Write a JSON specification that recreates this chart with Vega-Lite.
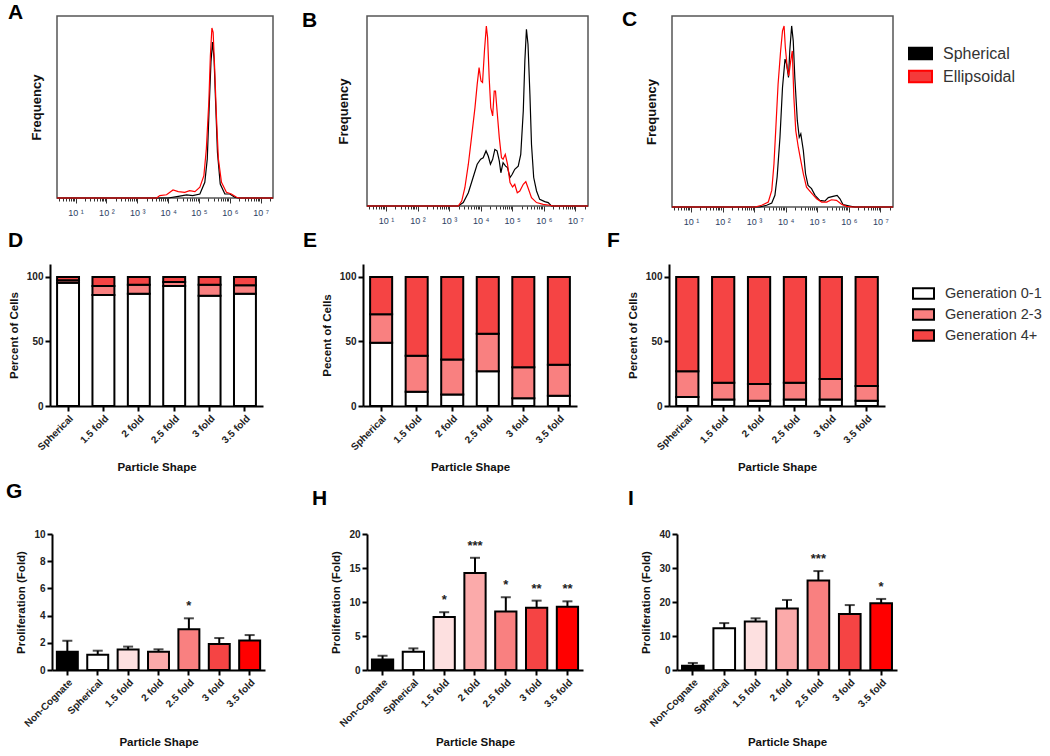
{
"$schema": "https://vega.github.io/schema/vega-lite/v6.json",
"padding": {"left": 6, "top": 1, "right": 5, "bottom": 5},
"background": "white",
"config": {
  "view": {"stroke": null},
  "font": "Liberation Sans",
  "axis": {"grid": false, "domainColor": "black", "domainWidth": 2, "tickColor": "black", "tickWidth": 2, "tickSize": 5, "labelFont": "Liberation Sans", "labelFontSize": 10, "labelFontWeight": "bold", "labelColor": "#222", "titleFont": "Liberation Sans", "titleFontSize": 11.5, "titleFontWeight": "bold", "titleColor": "#111"},
  "title": {"font": "Liberation Sans", "fontSize": 21, "fontWeight": "bold", "color": "black", "anchor": "start", "frame": "group", "offset": 0, "baseline": "alphabetic"}
},
"datasets": {
"hist": [
{"panel":"A","series":"Spherical","log_intensity":0.4,"frequency":0},
{"panel":"A","series":"Spherical","log_intensity":4.0,"frequency":0},
{"panel":"A","series":"Spherical","log_intensity":4.33,"frequency":0.9},
{"panel":"A","series":"Spherical","log_intensity":4.6,"frequency":1.7},
{"panel":"A","series":"Spherical","log_intensity":4.8,"frequency":1.3},
{"panel":"A","series":"Spherical","log_intensity":5.03,"frequency":2.2},
{"panel":"A","series":"Spherical","log_intensity":5.19,"frequency":8.6},
{"panel":"A","series":"Spherical","log_intensity":5.27,"frequency":21.5},
{"panel":"A","series":"Spherical","log_intensity":5.33,"frequency":49},
{"panel":"A","series":"Spherical","log_intensity":5.39,"frequency":74.7},
{"panel":"A","series":"Spherical","log_intensity":5.44,"frequency":85.7},
{"panel":"A","series":"Spherical","log_intensity":5.49,"frequency":76.5},
{"panel":"A","series":"Spherical","log_intensity":5.54,"frequency":52.7},
{"panel":"A","series":"Spherical","log_intensity":5.6,"frequency":25},
{"panel":"A","series":"Spherical","log_intensity":5.69,"frequency":7.7},
{"panel":"A","series":"Spherical","log_intensity":5.84,"frequency":2.2},
{"panel":"A","series":"Spherical","log_intensity":6.0,"frequency":2.2},
{"panel":"A","series":"Spherical","log_intensity":6.16,"frequency":0.4},
{"panel":"A","series":"Spherical","log_intensity":6.27,"frequency":0},
{"panel":"A","series":"Spherical","log_intensity":7.4,"frequency":0},
{"panel":"A","series":"Ellipsoidal","log_intensity":0.4,"frequency":0},
{"panel":"A","series":"Ellipsoidal","log_intensity":3.63,"frequency":0},
{"panel":"A","series":"Ellipsoidal","log_intensity":3.73,"frequency":1.3},
{"panel":"A","series":"Ellipsoidal","log_intensity":3.95,"frequency":1.8},
{"panel":"A","series":"Ellipsoidal","log_intensity":4.16,"frequency":4.4},
{"panel":"A","series":"Ellipsoidal","log_intensity":4.33,"frequency":3.5},
{"panel":"A","series":"Ellipsoidal","log_intensity":4.54,"frequency":3.1},
{"panel":"A","series":"Ellipsoidal","log_intensity":4.7,"frequency":4.0},
{"panel":"A","series":"Ellipsoidal","log_intensity":4.87,"frequency":3.5},
{"panel":"A","series":"Ellipsoidal","log_intensity":5.03,"frequency":5.9},
{"panel":"A","series":"Ellipsoidal","log_intensity":5.16,"frequency":12.3},
{"panel":"A","series":"Ellipsoidal","log_intensity":5.24,"frequency":27},
{"panel":"A","series":"Ellipsoidal","log_intensity":5.32,"frequency":52.7},
{"panel":"A","series":"Ellipsoidal","log_intensity":5.37,"frequency":78},
{"panel":"A","series":"Ellipsoidal","log_intensity":5.42,"frequency":93.4},
{"panel":"A","series":"Ellipsoidal","log_intensity":5.46,"frequency":91},
{"panel":"A","series":"Ellipsoidal","log_intensity":5.51,"frequency":71},
{"panel":"A","series":"Ellipsoidal","log_intensity":5.57,"frequency":43.5},
{"panel":"A","series":"Ellipsoidal","log_intensity":5.63,"frequency":21.5},
{"panel":"A","series":"Ellipsoidal","log_intensity":5.73,"frequency":8.6},
{"panel":"A","series":"Ellipsoidal","log_intensity":5.89,"frequency":3.1},
{"panel":"A","series":"Ellipsoidal","log_intensity":6.05,"frequency":2.2},
{"panel":"A","series":"Ellipsoidal","log_intensity":6.22,"frequency":0.4},
{"panel":"A","series":"Ellipsoidal","log_intensity":6.32,"frequency":0},
{"panel":"A","series":"Ellipsoidal","log_intensity":7.4,"frequency":0},
{"panel":"B","series":"Spherical","log_intensity":0.4,"frequency":0},
{"panel":"B","series":"Spherical","log_intensity":3.29,"frequency":0},
{"panel":"B","series":"Spherical","log_intensity":3.45,"frequency":1.8},
{"panel":"B","series":"Spherical","log_intensity":3.61,"frequency":7},
{"panel":"B","series":"Spherical","log_intensity":3.76,"frequency":15},
{"panel":"B","series":"Spherical","log_intensity":3.89,"frequency":22},
{"panel":"B","series":"Spherical","log_intensity":4.0,"frequency":24.6},
{"panel":"B","series":"Spherical","log_intensity":4.08,"frequency":25.4},
{"panel":"B","series":"Spherical","log_intensity":4.17,"frequency":29},
{"panel":"B","series":"Spherical","log_intensity":4.24,"frequency":26.3},
{"panel":"B","series":"Spherical","log_intensity":4.31,"frequency":22},
{"panel":"B","series":"Spherical","log_intensity":4.38,"frequency":24.6},
{"panel":"B","series":"Spherical","log_intensity":4.45,"frequency":29.8},
{"panel":"B","series":"Spherical","log_intensity":4.52,"frequency":29},
{"panel":"B","series":"Spherical","log_intensity":4.59,"frequency":23.7},
{"panel":"B","series":"Spherical","log_intensity":4.64,"frequency":17.5},
{"panel":"B","series":"Spherical","log_intensity":4.71,"frequency":22.8},
{"panel":"B","series":"Spherical","log_intensity":4.79,"frequency":21},
{"panel":"B","series":"Spherical","log_intensity":4.85,"frequency":20.2},
{"panel":"B","series":"Spherical","log_intensity":4.93,"frequency":15},
{"panel":"B","series":"Spherical","log_intensity":5.0,"frequency":16.7},
{"panel":"B","series":"Spherical","log_intensity":5.08,"frequency":19.3},
{"panel":"B","series":"Spherical","log_intensity":5.19,"frequency":21},
{"panel":"B","series":"Spherical","log_intensity":5.27,"frequency":27.2},
{"panel":"B","series":"Spherical","log_intensity":5.35,"frequency":50},
{"panel":"B","series":"Spherical","log_intensity":5.4,"frequency":76.3},
{"panel":"B","series":"Spherical","log_intensity":5.45,"frequency":93},
{"panel":"B","series":"Spherical","log_intensity":5.5,"frequency":85},
{"panel":"B","series":"Spherical","log_intensity":5.56,"frequency":58.8},
{"panel":"B","series":"Spherical","log_intensity":5.61,"frequency":32.5},
{"panel":"B","series":"Spherical","log_intensity":5.68,"frequency":15},
{"panel":"B","series":"Spherical","log_intensity":5.77,"frequency":7.9},
{"panel":"B","series":"Spherical","log_intensity":5.87,"frequency":3.5},
{"panel":"B","series":"Spherical","log_intensity":6.03,"frequency":2.3},
{"panel":"B","series":"Spherical","log_intensity":6.14,"frequency":1.8},
{"panel":"B","series":"Spherical","log_intensity":6.24,"frequency":0},
{"panel":"B","series":"Spherical","log_intensity":7.4,"frequency":0},
{"panel":"B","series":"Ellipsoidal","log_intensity":0.4,"frequency":0},
{"panel":"B","series":"Ellipsoidal","log_intensity":3.29,"frequency":0},
{"panel":"B","series":"Ellipsoidal","log_intensity":3.4,"frequency":2.6},
{"panel":"B","series":"Ellipsoidal","log_intensity":3.5,"frequency":9.6},
{"panel":"B","series":"Ellipsoidal","log_intensity":3.61,"frequency":22},
{"panel":"B","series":"Ellipsoidal","log_intensity":3.71,"frequency":36},
{"panel":"B","series":"Ellipsoidal","log_intensity":3.82,"frequency":51.8},
{"panel":"B","series":"Ellipsoidal","log_intensity":3.89,"frequency":64},
{"panel":"B","series":"Ellipsoidal","log_intensity":3.95,"frequency":72.8},
{"panel":"B","series":"Ellipsoidal","log_intensity":4.01,"frequency":65.8},
{"panel":"B","series":"Ellipsoidal","log_intensity":4.06,"frequency":65},
{"panel":"B","series":"Ellipsoidal","log_intensity":4.12,"frequency":81.6},
{"panel":"B","series":"Ellipsoidal","log_intensity":4.18,"frequency":94.7},
{"panel":"B","series":"Ellipsoidal","log_intensity":4.22,"frequency":88.6},
{"panel":"B","series":"Ellipsoidal","log_intensity":4.27,"frequency":67.5},
{"panel":"B","series":"Ellipsoidal","log_intensity":4.32,"frequency":51.8},
{"panel":"B","series":"Ellipsoidal","log_intensity":4.38,"frequency":47.4},
{"panel":"B","series":"Ellipsoidal","log_intensity":4.43,"frequency":60.5},
{"panel":"B","series":"Ellipsoidal","log_intensity":4.47,"frequency":60.5},
{"panel":"B","series":"Ellipsoidal","log_intensity":4.52,"frequency":50},
{"panel":"B","series":"Ellipsoidal","log_intensity":4.59,"frequency":36},
{"panel":"B","series":"Ellipsoidal","log_intensity":4.66,"frequency":25.4},
{"panel":"B","series":"Ellipsoidal","log_intensity":4.71,"frequency":24.6},
{"panel":"B","series":"Ellipsoidal","log_intensity":4.78,"frequency":27.2},
{"panel":"B","series":"Ellipsoidal","log_intensity":4.85,"frequency":22},
{"panel":"B","series":"Ellipsoidal","log_intensity":4.93,"frequency":12.3},
{"panel":"B","series":"Ellipsoidal","log_intensity":5.01,"frequency":10},
{"panel":"B","series":"Ellipsoidal","log_intensity":5.08,"frequency":11.4},
{"panel":"B","series":"Ellipsoidal","log_intensity":5.16,"frequency":7},
{"panel":"B","series":"Ellipsoidal","log_intensity":5.24,"frequency":7.9},
{"panel":"B","series":"Ellipsoidal","log_intensity":5.35,"frequency":11.4},
{"panel":"B","series":"Ellipsoidal","log_intensity":5.43,"frequency":12.8},
{"panel":"B","series":"Ellipsoidal","log_intensity":5.5,"frequency":9.6},
{"panel":"B","series":"Ellipsoidal","log_intensity":5.61,"frequency":4.4},
{"panel":"B","series":"Ellipsoidal","log_intensity":5.77,"frequency":1.8},
{"panel":"B","series":"Ellipsoidal","log_intensity":5.98,"frequency":0.9},
{"panel":"B","series":"Ellipsoidal","log_intensity":6.19,"frequency":0.4},
{"panel":"B","series":"Ellipsoidal","log_intensity":6.3,"frequency":0},
{"panel":"B","series":"Ellipsoidal","log_intensity":7.4,"frequency":0},
{"panel":"C","series":"Spherical","log_intensity":0.4,"frequency":0},
{"panel":"C","series":"Spherical","log_intensity":3.18,"frequency":0},
{"panel":"C","series":"Spherical","log_intensity":3.4,"frequency":0.9},
{"panel":"C","series":"Spherical","log_intensity":3.56,"frequency":2.1},
{"panel":"C","series":"Spherical","log_intensity":3.66,"frequency":6.1},
{"panel":"C","series":"Spherical","log_intensity":3.73,"frequency":15.7},
{"panel":"C","series":"Spherical","log_intensity":3.82,"frequency":36.5},
{"panel":"C","series":"Spherical","log_intensity":3.9,"frequency":62.6},
{"panel":"C","series":"Spherical","log_intensity":3.98,"frequency":77.4},
{"panel":"C","series":"Spherical","log_intensity":4.03,"frequency":74.8},
{"panel":"C","series":"Spherical","log_intensity":4.09,"frequency":67.8},
{"panel":"C","series":"Spherical","log_intensity":4.13,"frequency":81.7},
{"panel":"C","series":"Spherical","log_intensity":4.19,"frequency":94.8},
{"panel":"C","series":"Spherical","log_intensity":4.24,"frequency":87},
{"panel":"C","series":"Spherical","log_intensity":4.29,"frequency":67.8},
{"panel":"C","series":"Spherical","log_intensity":4.37,"frequency":45.2},
{"panel":"C","series":"Spherical","log_intensity":4.43,"frequency":36.5},
{"panel":"C","series":"Spherical","log_intensity":4.48,"frequency":38.3},
{"panel":"C","series":"Spherical","log_intensity":4.56,"frequency":29.6},
{"panel":"C","series":"Spherical","log_intensity":4.63,"frequency":17.4},
{"panel":"C","series":"Spherical","log_intensity":4.71,"frequency":11.3},
{"panel":"C","series":"Spherical","log_intensity":4.82,"frequency":9.6},
{"panel":"C","series":"Spherical","log_intensity":4.93,"frequency":6.1},
{"panel":"C","series":"Spherical","log_intensity":5.08,"frequency":3.5},
{"panel":"C","series":"Spherical","log_intensity":5.24,"frequency":3.1},
{"panel":"C","series":"Spherical","log_intensity":5.35,"frequency":4.9},
{"panel":"C","series":"Spherical","log_intensity":5.5,"frequency":5.6},
{"panel":"C","series":"Spherical","log_intensity":5.63,"frequency":6.1},
{"panel":"C","series":"Spherical","log_intensity":5.72,"frequency":4.3},
{"panel":"C","series":"Spherical","log_intensity":5.82,"frequency":1.2},
{"panel":"C","series":"Spherical","log_intensity":6.03,"frequency":0.5},
{"panel":"C","series":"Spherical","log_intensity":6.19,"frequency":0},
{"panel":"C","series":"Spherical","log_intensity":7.4,"frequency":0},
{"panel":"C","series":"Ellipsoidal","log_intensity":0.4,"frequency":0},
{"panel":"C","series":"Ellipsoidal","log_intensity":3.03,"frequency":0},
{"panel":"C","series":"Ellipsoidal","log_intensity":3.24,"frequency":0.9},
{"panel":"C","series":"Ellipsoidal","log_intensity":3.45,"frequency":2.6},
{"panel":"C","series":"Ellipsoidal","log_intensity":3.56,"frequency":8.7},
{"panel":"C","series":"Ellipsoidal","log_intensity":3.63,"frequency":22.6},
{"panel":"C","series":"Ellipsoidal","log_intensity":3.69,"frequency":41.7},
{"panel":"C","series":"Ellipsoidal","log_intensity":3.76,"frequency":64.3},
{"panel":"C","series":"Ellipsoidal","log_intensity":3.84,"frequency":81.7},
{"panel":"C","series":"Ellipsoidal","log_intensity":3.9,"frequency":92.2},
{"panel":"C","series":"Ellipsoidal","log_intensity":3.95,"frequency":94.8},
{"panel":"C","series":"Ellipsoidal","log_intensity":3.99,"frequency":83.5},
{"panel":"C","series":"Ellipsoidal","log_intensity":4.05,"frequency":73},
{"panel":"C","series":"Ellipsoidal","log_intensity":4.1,"frequency":68.7},
{"panel":"C","series":"Ellipsoidal","log_intensity":4.16,"frequency":76.5},
{"panel":"C","series":"Ellipsoidal","log_intensity":4.21,"frequency":81.7},
{"panel":"C","series":"Ellipsoidal","log_intensity":4.26,"frequency":57.4},
{"panel":"C","series":"Ellipsoidal","log_intensity":4.32,"frequency":40},
{"panel":"C","series":"Ellipsoidal","log_intensity":4.4,"frequency":31.3},
{"panel":"C","series":"Ellipsoidal","log_intensity":4.48,"frequency":24.3},
{"panel":"C","series":"Ellipsoidal","log_intensity":4.56,"frequency":17.4},
{"panel":"C","series":"Ellipsoidal","log_intensity":4.66,"frequency":10.4},
{"panel":"C","series":"Ellipsoidal","log_intensity":4.82,"frequency":7.3},
{"panel":"C","series":"Ellipsoidal","log_intensity":4.98,"frequency":4.3},
{"panel":"C","series":"Ellipsoidal","log_intensity":5.14,"frequency":2.6},
{"panel":"C","series":"Ellipsoidal","log_intensity":5.3,"frequency":2.6},
{"panel":"C","series":"Ellipsoidal","log_intensity":5.45,"frequency":3.8},
{"panel":"C","series":"Ellipsoidal","log_intensity":5.61,"frequency":3.5},
{"panel":"C","series":"Ellipsoidal","log_intensity":5.77,"frequency":1.4},
{"panel":"C","series":"Ellipsoidal","log_intensity":5.93,"frequency":0.3},
{"panel":"C","series":"Ellipsoidal","log_intensity":6.14,"frequency":0},
{"panel":"C","series":"Ellipsoidal","log_intensity":7.4,"frequency":0}
],
"gen": [
{"panel":"D","shape":"Spherical","generation":"Generation 0-1","percent":95.5},
{"panel":"D","shape":"Spherical","generation":"Generation 2-3","percent":2},
{"panel":"D","shape":"Spherical","generation":"Generation 4+","percent":2.5},
{"panel":"D","shape":"1.5 fold","generation":"Generation 0-1","percent":86},
{"panel":"D","shape":"1.5 fold","generation":"Generation 2-3","percent":7},
{"panel":"D","shape":"1.5 fold","generation":"Generation 4+","percent":7},
{"panel":"D","shape":"2 fold","generation":"Generation 0-1","percent":87},
{"panel":"D","shape":"2 fold","generation":"Generation 2-3","percent":7},
{"panel":"D","shape":"2 fold","generation":"Generation 4+","percent":6},
{"panel":"D","shape":"2.5 fold","generation":"Generation 0-1","percent":93},
{"panel":"D","shape":"2.5 fold","generation":"Generation 2-3","percent":3},
{"panel":"D","shape":"2.5 fold","generation":"Generation 4+","percent":4},
{"panel":"D","shape":"3 fold","generation":"Generation 0-1","percent":85.5},
{"panel":"D","shape":"3 fold","generation":"Generation 2-3","percent":8.5},
{"panel":"D","shape":"3 fold","generation":"Generation 4+","percent":6},
{"panel":"D","shape":"3.5 fold","generation":"Generation 0-1","percent":87},
{"panel":"D","shape":"3.5 fold","generation":"Generation 2-3","percent":6.5},
{"panel":"D","shape":"3.5 fold","generation":"Generation 4+","percent":6.5},
{"panel":"E","shape":"Spherical","generation":"Generation 0-1","percent":49},
{"panel":"E","shape":"Spherical","generation":"Generation 2-3","percent":22},
{"panel":"E","shape":"Spherical","generation":"Generation 4+","percent":29},
{"panel":"E","shape":"1.5 fold","generation":"Generation 0-1","percent":11},
{"panel":"E","shape":"1.5 fold","generation":"Generation 2-3","percent":28},
{"panel":"E","shape":"1.5 fold","generation":"Generation 4+","percent":61},
{"panel":"E","shape":"2 fold","generation":"Generation 0-1","percent":9},
{"panel":"E","shape":"2 fold","generation":"Generation 2-3","percent":27},
{"panel":"E","shape":"2 fold","generation":"Generation 4+","percent":64},
{"panel":"E","shape":"2.5 fold","generation":"Generation 0-1","percent":27},
{"panel":"E","shape":"2.5 fold","generation":"Generation 2-3","percent":29},
{"panel":"E","shape":"2.5 fold","generation":"Generation 4+","percent":44},
{"panel":"E","shape":"3 fold","generation":"Generation 0-1","percent":6},
{"panel":"E","shape":"3 fold","generation":"Generation 2-3","percent":24},
{"panel":"E","shape":"3 fold","generation":"Generation 4+","percent":70},
{"panel":"E","shape":"3.5 fold","generation":"Generation 0-1","percent":8},
{"panel":"E","shape":"3.5 fold","generation":"Generation 2-3","percent":24},
{"panel":"E","shape":"3.5 fold","generation":"Generation 4+","percent":68},
{"panel":"F","shape":"Spherical","generation":"Generation 0-1","percent":7},
{"panel":"F","shape":"Spherical","generation":"Generation 2-3","percent":20},
{"panel":"F","shape":"Spherical","generation":"Generation 4+","percent":73},
{"panel":"F","shape":"1.5 fold","generation":"Generation 0-1","percent":5},
{"panel":"F","shape":"1.5 fold","generation":"Generation 2-3","percent":13},
{"panel":"F","shape":"1.5 fold","generation":"Generation 4+","percent":82},
{"panel":"F","shape":"2 fold","generation":"Generation 0-1","percent":4},
{"panel":"F","shape":"2 fold","generation":"Generation 2-3","percent":13},
{"panel":"F","shape":"2 fold","generation":"Generation 4+","percent":83},
{"panel":"F","shape":"2.5 fold","generation":"Generation 0-1","percent":5},
{"panel":"F","shape":"2.5 fold","generation":"Generation 2-3","percent":13},
{"panel":"F","shape":"2.5 fold","generation":"Generation 4+","percent":82},
{"panel":"F","shape":"3 fold","generation":"Generation 0-1","percent":5},
{"panel":"F","shape":"3 fold","generation":"Generation 2-3","percent":16},
{"panel":"F","shape":"3 fold","generation":"Generation 4+","percent":79},
{"panel":"F","shape":"3.5 fold","generation":"Generation 0-1","percent":4},
{"panel":"F","shape":"3.5 fold","generation":"Generation 2-3","percent":11.5},
{"panel":"F","shape":"3.5 fold","generation":"Generation 4+","percent":84.5}
],
"prolif": [
{"panel":"G","shape":"Non-Cognate","value":1.35,"upper":2.15,"sig":""},
{"panel":"G","shape":"Spherical","value":1.13,"upper":1.42,"sig":""},
{"panel":"G","shape":"1.5 fold","value":1.5,"upper":1.72,"sig":""},
{"panel":"G","shape":"2 fold","value":1.35,"upper":1.52,"sig":""},
{"panel":"G","shape":"2.5 fold","value":3.0,"upper":3.8,"sig":"*"},
{"panel":"G","shape":"3 fold","value":1.91,"upper":2.35,"sig":""},
{"panel":"G","shape":"3.5 fold","value":2.16,"upper":2.57,"sig":""},
{"panel":"H","shape":"Non-Cognate","value":1.56,"upper":2.1,"sig":""},
{"panel":"H","shape":"Spherical","value":2.69,"upper":3.18,"sig":""},
{"panel":"H","shape":"1.5 fold","value":7.78,"upper":8.5,"sig":"*"},
{"panel":"H","shape":"2 fold","value":14.28,"upper":16.5,"sig":"***"},
{"panel":"H","shape":"2.5 fold","value":8.6,"upper":10.7,"sig":"*"},
{"panel":"H","shape":"3 fold","value":9.14,"upper":10.2,"sig":"**"},
{"panel":"H","shape":"3.5 fold","value":9.29,"upper":10.1,"sig":"**"},
{"panel":"I","shape":"Non-Cognate","value":1.28,"upper":2.07,"sig":""},
{"panel":"I","shape":"Spherical","value":12.3,"upper":13.8,"sig":""},
{"panel":"I","shape":"1.5 fold","value":14.3,"upper":15.2,"sig":""},
{"panel":"I","shape":"2 fold","value":18.1,"upper":20.6,"sig":""},
{"panel":"I","shape":"2.5 fold","value":26.3,"upper":29.1,"sig":"***"},
{"panel":"I","shape":"3 fold","value":16.5,"upper":19.1,"sig":""},
{"panel":"I","shape":"3.5 fold","value":19.6,"upper":20.9,"sig":"*"}
]
},
"bounds": "flush",
"spacing": 0,
"resolve": {"scale": {"color": "independent"}, "legend": {"color": "independent"}},
"vconcat": [
{
 "bounds": "flush", "spacing": 0,
 "resolve": {"scale": {"color": "independent"}, "legend": {"color": "independent"}},
 "hconcat": [
  {"width": 8, "height": 1, "data": {"values": []}, "mark": "point"},
  {
   "bounds": "flush", "spacing": 94,
   "resolve": {"scale": {"color": "independent"}, "legend": {"color": "independent"}},
   "hconcat": [
    {
     "width": 216, "height": 182,
     "view": {"stroke": "#555", "strokeWidth": 1.5},
     "title": {"text": "A", "dx": -49, "dy": 11},
     "data": {"name": "hist"},
     "transform": [{"filter": "datum.panel === 'A'"}],
     "mark": {"type": "line", "strokeWidth": 1.2},
     "encoding": {
      "x": {"field": "log_intensity", "type": "quantitative", "scale": {"domain": [0.4, 7.4], "nice": false, "zero": false},
        "axis": {"title": null, "domain": false, "values": [0.477,0.602,0.699,0.778,0.845,0.903,0.954,1,1.301,1.477,1.602,1.699,1.778,1.845,1.903,1.954,2,2.301,2.477,2.602,2.699,2.778,2.845,2.903,2.954,3,3.301,3.477,3.602,3.699,3.778,3.845,3.903,3.954,4,4.301,4.477,4.602,4.699,4.778,4.845,4.903,4.954,5,5.301,5.477,5.602,5.699,5.778,5.845,5.903,5.954,6,6.301,6.477,6.602,6.699,6.778,6.845,6.903,6.954,7,7.301],
          "labelExpr": "datum.value % 1 === 0 ? '10 ' + ['⁰','¹','²','³','⁴','⁵','⁶','⁷'][datum.value] : ''",
          "tickSize": {"condition": {"test": "datum.value % 1 === 0", "value": 5}, "value": 3}, "tickWidth": 1, "tickColor": "#333",
          "labelFontSize": 9, "labelFontWeight": "normal", "labelColor": "#2c3e63", "labelPadding": 5, "labelOverlap": false, "labelBound": false, "labelFlush": false}},
      "y": {"field": "frequency", "type": "quantitative", "scale": {"domain": [0, 100], "nice": false},
        "axis": {"title": "Frequency", "ticks": false, "labels": false, "domain": false, "titleFontSize": 13, "titlePadding": 14}},
      "color": {"field": "series", "type": "nominal", "scale": {"domain": ["Spherical", "Ellipsoidal"], "range": ["#000000", "#ff0000"]}, "legend": null}
     }
    },
    {
     "bounds": "flush", "spacing": 84,
     "resolve": {"scale": {"color": "independent"}, "legend": {"color": "independent"}},
     "hconcat": [
      {
       "width": 221, "height": 190,
       "view": {"stroke": "#555", "strokeWidth": 1.5},
       "title": {"text": "B", "dx": -65, "dy": 19},
       "data": {"name": "hist"},
       "transform": [{"filter": "datum.panel === 'B'"}],
       "mark": {"type": "line", "strokeWidth": 1.2},
       "encoding": {
        "x": {"field": "log_intensity", "type": "quantitative", "scale": {"domain": [0.4, 7.4], "nice": false, "zero": false},
          "axis": {"title": null, "domain": false, "values": [0.477,0.602,0.699,0.778,0.845,0.903,0.954,1,1.301,1.477,1.602,1.699,1.778,1.845,1.903,1.954,2,2.301,2.477,2.602,2.699,2.778,2.845,2.903,2.954,3,3.301,3.477,3.602,3.699,3.778,3.845,3.903,3.954,4,4.301,4.477,4.602,4.699,4.778,4.845,4.903,4.954,5,5.301,5.477,5.602,5.699,5.778,5.845,5.903,5.954,6,6.301,6.477,6.602,6.699,6.778,6.845,6.903,6.954,7,7.301],
            "labelExpr": "datum.value % 1 === 0 ? '10 ' + ['⁰','¹','²','³','⁴','⁵','⁶','⁷'][datum.value] : ''",
            "tickSize": {"condition": {"test": "datum.value % 1 === 0", "value": 5}, "value": 3}, "tickWidth": 1, "tickColor": "#333",
            "labelFontSize": 9, "labelFontWeight": "normal", "labelColor": "#2c3e63", "labelPadding": 5, "labelOverlap": false, "labelBound": false, "labelFlush": false}},
        "y": {"field": "frequency", "type": "quantitative", "scale": {"domain": [0, 100], "nice": false},
          "axis": {"title": "Frequency", "ticks": false, "labels": false, "domain": false, "titleFontSize": 13, "titlePadding": 17}},
        "color": {"field": "series", "type": "nominal", "scale": {"domain": ["Spherical", "Ellipsoidal"], "range": ["#000000", "#ff0000"]}, "legend": null}
       }
      },
      {
       "width": 221, "height": 191,
       "view": {"stroke": "#555", "strokeWidth": 1.5},
       "title": {"text": "C", "dx": -50, "dy": 18},
       "data": {"name": "hist"},
       "transform": [{"filter": "datum.panel === 'C'"}],
       "mark": {"type": "line", "strokeWidth": 1.2},
       "encoding": {
        "x": {"field": "log_intensity", "type": "quantitative", "scale": {"domain": [0.4, 7.4], "nice": false, "zero": false},
          "axis": {"title": null, "domain": false, "values": [0.477,0.602,0.699,0.778,0.845,0.903,0.954,1,1.301,1.477,1.602,1.699,1.778,1.845,1.903,1.954,2,2.301,2.477,2.602,2.699,2.778,2.845,2.903,2.954,3,3.301,3.477,3.602,3.699,3.778,3.845,3.903,3.954,4,4.301,4.477,4.602,4.699,4.778,4.845,4.903,4.954,5,5.301,5.477,5.602,5.699,5.778,5.845,5.903,5.954,6,6.301,6.477,6.602,6.699,6.778,6.845,6.903,6.954,7,7.301],
            "labelExpr": "datum.value % 1 === 0 ? '10 ' + ['⁰','¹','²','³','⁴','⁵','⁶','⁷'][datum.value] : ''",
            "tickSize": {"condition": {"test": "datum.value % 1 === 0", "value": 5}, "value": 3}, "tickWidth": 1, "tickColor": "#333",
            "labelFontSize": 9, "labelFontWeight": "normal", "labelColor": "#2c3e63", "labelPadding": 5, "labelOverlap": false, "labelBound": false, "labelFlush": false}},
        "y": {"field": "frequency", "type": "quantitative", "scale": {"domain": [0, 100], "nice": false},
          "axis": {"title": "Frequency", "ticks": false, "labels": false, "domain": false, "titleFontSize": 13, "titlePadding": 14}},
        "color": {"field": "series", "type": "nominal", "scale": {"domain": ["Spherical", "Ellipsoidal"], "range": ["#000000", "#ff0000"]},
          "legend": {"orient": "none", "legendX": 236, "legendY": 25, "title": null, "padding": 0,
            "symbolType": "M-1,-0.5H1V0.5H-1Z", "symbolSize": 529, "symbolStrokeWidth": 2, "symbolStrokeColor": "black",
            "labelFontSize": 16, "labelFont": "Liberation Sans", "labelColor": "#333", "labelOffset": 10, "rowPadding": 0,
            "encode": {"symbols": {"update": {"fill": {"signal": "datum.value === 'Spherical' ? '#000000' : '#f43a3a'"}, "stroke": {"value": "black"}, "strokeWidth": {"value": 2}, "opacity": {"value": 1}}}}}}
       }
      }
     ]
    }
   ]
  }
 ]
},
{"width": 1, "height": 248, "data": {"values": []}, "mark": "point"},
{
 "bounds": "flush", "spacing": 0,
 "resolve": {"scale": {"color": "independent"}, "legend": {"color": "independent"}},
 "hconcat": [
  {"width": 1, "height": 1, "data": {"values": []}, "mark": "point"},
  {
   "bounds": "flush", "spacing": 100,
   "resolve": {"scale": {"color": "independent"}, "legend": {"color": "independent"}},
   "hconcat": [
    {
     "width": 213, "height": 142,
     "title": {"text": "D", "dx": -42, "dy": -9},
     "data": {"name": "gen"},
     "transform": [{"filter": "datum.panel === 'D'"}],
     "mark": {"type": "bar", "stroke": "black", "strokeWidth": 2},
     "encoding": {
      "x": {"field": "shape", "type": "nominal", "sort": null, "scale": {"paddingInner": 0.38, "paddingOuter": 0.2}, "axis": {"title": "Particle  Shape", "labelAngle": -45, "titlePadding": 10}},
      "y": {"field": "percent", "type": "quantitative", "stack": "zero", "scale": {"domain": [0, 110], "nice": false}, "axis": {"values": [0, 50, 100], "title": "Percent of Cells", "titlePadding": 7}},
      "color": {"field": "generation", "type": "nominal", "scale": {"domain": ["Generation 0-1", "Generation 2-3", "Generation 4+"], "range": ["#ffffff", "#f98080", "#f54444"]}, "legend": null},
      "order": {"field": "generation", "sort": "ascending"}
     }
    },
    {
     "bounds": "flush", "spacing": 92,
     "resolve": {"scale": {"color": "independent"}, "legend": {"color": "independent"}},
     "hconcat": [
      {
       "width": 214, "height": 142,
       "title": {"text": "E", "dx": -60, "dy": -9},
       "data": {"name": "gen"},
       "transform": [{"filter": "datum.panel === 'E'"}],
       "mark": {"type": "bar", "stroke": "black", "strokeWidth": 2},
       "encoding": {
        "x": {"field": "shape", "type": "nominal", "sort": null, "scale": {"paddingInner": 0.38, "paddingOuter": 0.2}, "axis": {"title": "Particle  Shape", "labelAngle": -45, "titlePadding": 10}},
        "y": {"field": "percent", "type": "quantitative", "stack": "zero", "scale": {"domain": [0, 110], "nice": false}, "axis": {"values": [0, 50, 100], "title": "Pecent of Cells", "titlePadding": 7}},
        "color": {"field": "generation", "type": "nominal", "scale": {"domain": ["Generation 0-1", "Generation 2-3", "Generation 4+"], "range": ["#ffffff", "#f98080", "#f54444"]}, "legend": null},
        "order": {"field": "generation", "sort": "ascending"}
       }
      },
      {
       "width": 216, "height": 142,
       "title": {"text": "F", "dx": -62, "dy": -9},
       "data": {"name": "gen"},
       "transform": [{"filter": "datum.panel === 'F'"}],
       "mark": {"type": "bar", "stroke": "black", "strokeWidth": 2},
       "encoding": {
        "x": {"field": "shape", "type": "nominal", "sort": null, "scale": {"paddingInner": 0.38, "paddingOuter": 0.2}, "axis": {"title": "Particle  Shape", "labelAngle": -45, "titlePadding": 10}},
        "y": {"field": "percent", "type": "quantitative", "stack": "zero", "scale": {"domain": [0, 110], "nice": false}, "axis": {"values": [0, 50, 100], "title": "Percent of  Cells", "titlePadding": 7}},
        "color": {"field": "generation", "type": "nominal", "scale": {"domain": ["Generation 0-1", "Generation 2-3", "Generation 4+"], "range": ["#ffffff", "#f98080", "#f54444"]},
          "legend": {"orient": "none", "legendX": 243, "legendY": 18, "title": null, "padding": 0,
            "symbolType": "M-1,-0.5H1V0.5H-1Z", "symbolSize": 441, "symbolStrokeWidth": 2, "symbolStrokeColor": "black",
            "labelFontSize": 14.5, "labelFont": "Liberation Sans", "labelFontWeight": "normal", "labelColor": "#333", "labelOffset": 10, "rowPadding": 0, "labelLimit": 200}},
        "order": {"field": "generation", "sort": "ascending"}
       }
      }
     ]
    }
   ]
  }
 ]
},
{"width": 1, "height": 270, "data": {"values": []}, "mark": "point"},
{
 "bounds": "flush", "spacing": 0,
 "resolve": {"scale": {"color": "independent"}, "legend": {"color": "independent"}},
 "hconcat": [
  {"width": 3, "height": 1, "data": {"values": []}, "mark": "point"},
  {
   "bounds": "flush", "spacing": 102,
   "resolve": {"scale": {"color": "independent"}, "legend": {"color": "independent"}},
   "hconcat": [
    {
     "width": 213, "height": 136,
     "title": {"text": "G", "dx": -46, "dy": -23},
     "data": {"name": "prolif"},
     "transform": [{"filter": "datum.panel === 'G'"}],
     "encoding": {"x": {"field": "shape", "type": "nominal", "sort": null, "scale": {"paddingInner": 0.31, "paddingOuter": 0.16}, "axis": {"title": "Particle Shape", "labelAngle": -45, "titlePadding": 8}}},
     "layer": [
      {"mark": {"type": "bar", "stroke": "black", "strokeWidth": 2},
       "encoding": {
        "y": {"field": "value", "type": "quantitative", "scale": {"domain": [0, 10], "nice": false}, "axis": {"values": [0, 2, 4, 6, 8, 10], "title": "Proliferation (Fold)", "titlePadding": 7}},
        "color": {"field": "shape", "type": "nominal", "scale": {"domain": ["Non-Cognate", "Spherical", "1.5 fold", "2 fold", "2.5 fold", "3 fold", "3.5 fold"], "range": ["#000000", "#ffffff", "#fde0e0", "#fbaaaa", "#f98080", "#f54444", "#ff0000"]}, "legend": null}}},
      {"mark": {"type": "rule", "strokeWidth": 2, "color": "black"},
       "encoding": {"y": {"field": "value", "type": "quantitative", "scale": {"domain": [0, 10], "nice": false}, "axis": {"values": [0, 2, 4, 6, 8, 10], "title": "Proliferation (Fold)", "titlePadding": 7}}, "y2": {"field": "upper"}}},
      {"mark": {"type": "tick", "thickness": 2, "size": 10, "color": "black"},
       "encoding": {"y": {"field": "upper", "type": "quantitative", "scale": {"domain": [0, 10], "nice": false}, "axis": {"values": [0, 2, 4, 6, 8, 10], "title": "Proliferation (Fold)", "titlePadding": 7}}}},
      {"transform": [{"filter": "datum.sig !== ''"}],
       "mark": {"type": "text", "baseline": "alphabetic", "dy": -8, "fontSize": 13, "fontWeight": "bold", "color": "#222"},
       "encoding": {"y": {"field": "upper", "type": "quantitative", "scale": {"domain": [0, 10], "nice": false}, "axis": {"values": [0, 2, 4, 6, 8, 10], "title": "Proliferation (Fold)", "titlePadding": 7}}, "text": {"field": "sig"}}}
     ]
    },
    {
     "bounds": "flush", "spacing": 94,
     "resolve": {"scale": {"color": "independent"}, "legend": {"color": "independent"}},
     "hconcat": [
      {
       "width": 216, "height": 136,
       "title": {"text": "H", "dx": -55, "dy": -16},
       "data": {"name": "prolif"},
       "transform": [{"filter": "datum.panel === 'H'"}],
       "encoding": {"x": {"field": "shape", "type": "nominal", "sort": null, "scale": {"paddingInner": 0.31, "paddingOuter": 0.16}, "axis": {"title": "Particle Shape", "labelAngle": -45, "titlePadding": 8}}},
       "layer": [
        {"mark": {"type": "bar", "stroke": "black", "strokeWidth": 2},
         "encoding": {
          "y": {"field": "value", "type": "quantitative", "scale": {"domain": [0, 20], "nice": false}, "axis": {"values": [0, 5, 10, 15, 20], "title": "Proliferation  (Fold)", "titlePadding": 7}},
          "color": {"field": "shape", "type": "nominal", "scale": {"domain": ["Non-Cognate", "Spherical", "1.5 fold", "2 fold", "2.5 fold", "3 fold", "3.5 fold"], "range": ["#000000", "#ffffff", "#fde0e0", "#fbaaaa", "#f98080", "#f54444", "#ff0000"]}, "legend": null}}},
        {"mark": {"type": "rule", "strokeWidth": 2, "color": "black"},
         "encoding": {"y": {"field": "value", "type": "quantitative", "scale": {"domain": [0, 20], "nice": false}, "axis": {"values": [0, 5, 10, 15, 20], "title": "Proliferation  (Fold)", "titlePadding": 7}}, "y2": {"field": "upper"}}},
        {"mark": {"type": "tick", "thickness": 2, "size": 10, "color": "black"},
         "encoding": {"y": {"field": "upper", "type": "quantitative", "scale": {"domain": [0, 20], "nice": false}, "axis": {"values": [0, 5, 10, 15, 20], "title": "Proliferation  (Fold)", "titlePadding": 7}}}},
        {"transform": [{"filter": "datum.sig !== ''"}],
         "mark": {"type": "text", "baseline": "alphabetic", "dy": -8, "fontSize": 13, "fontWeight": "bold", "color": "#222"},
         "encoding": {"y": {"field": "upper", "type": "quantitative", "scale": {"domain": [0, 20], "nice": false}, "axis": {"values": [0, 5, 10, 15, 20], "title": "Proliferation  (Fold)", "titlePadding": 7}}, "text": {"field": "sig"}}}
       ]
      },
      {
       "width": 220, "height": 136,
       "title": {"text": "I", "dx": -49, "dy": -16},
       "data": {"name": "prolif"},
       "transform": [{"filter": "datum.panel === 'I'"}],
       "encoding": {"x": {"field": "shape", "type": "nominal", "sort": null, "scale": {"paddingInner": 0.31, "paddingOuter": 0.16}, "axis": {"title": "Particle Shape", "labelAngle": -45, "titlePadding": 8}}},
       "layer": [
        {"mark": {"type": "bar", "stroke": "black", "strokeWidth": 2},
         "encoding": {
          "y": {"field": "value", "type": "quantitative", "scale": {"domain": [0, 40], "nice": false}, "axis": {"values": [0, 10, 20, 30, 40], "title": "Proliferation (Fold)", "titlePadding": 7}},
          "color": {"field": "shape", "type": "nominal", "scale": {"domain": ["Non-Cognate", "Spherical", "1.5 fold", "2 fold", "2.5 fold", "3 fold", "3.5 fold"], "range": ["#000000", "#ffffff", "#fde0e0", "#fbaaaa", "#f98080", "#f54444", "#ff0000"]}, "legend": null}}},
        {"mark": {"type": "rule", "strokeWidth": 2, "color": "black"},
         "encoding": {"y": {"field": "value", "type": "quantitative", "scale": {"domain": [0, 40], "nice": false}, "axis": {"values": [0, 10, 20, 30, 40], "title": "Proliferation (Fold)", "titlePadding": 7}}, "y2": {"field": "upper"}}},
        {"mark": {"type": "tick", "thickness": 2, "size": 10, "color": "black"},
         "encoding": {"y": {"field": "upper", "type": "quantitative", "scale": {"domain": [0, 40], "nice": false}, "axis": {"values": [0, 10, 20, 30, 40], "title": "Proliferation (Fold)", "titlePadding": 7}}}},
        {"transform": [{"filter": "datum.sig !== ''"}],
         "mark": {"type": "text", "baseline": "alphabetic", "dy": -8, "fontSize": 13, "fontWeight": "bold", "color": "#222"},
         "encoding": {"y": {"field": "upper", "type": "quantitative", "scale": {"domain": [0, 40], "nice": false}, "axis": {"values": [0, 10, 20, 30, 40], "title": "Proliferation (Fold)", "titlePadding": 7}}, "text": {"field": "sig"}}}
       ]
      }
     ]
    }
   ]
  }
 ]
}
]
}
